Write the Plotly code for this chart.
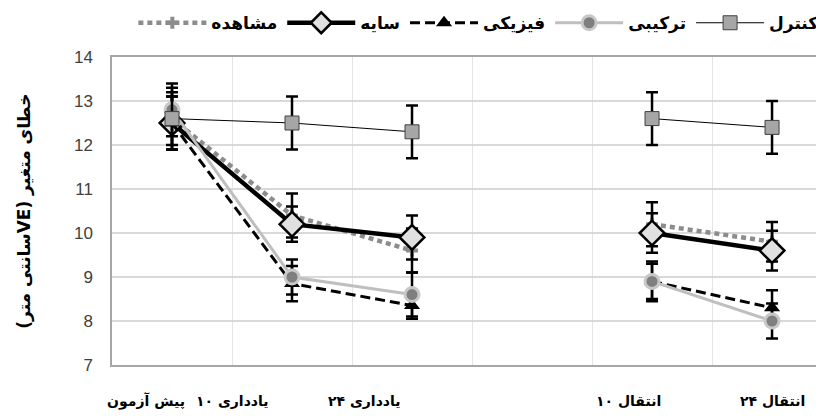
import plotly.graph_objects as go

categories = ["پیش آزمون", "یادداری ۱۰", "یادداری ۲۴", "", "انتقال ۱۰", "انتقال ۲۴"]
x_idx = [0, 1, 2, 3, 4, 5]

control = [12.6, 12.5, 12.3, None, 12.6, 12.4]
control_err = [0.6, 0.6, 0.6, None, 0.6, 0.6]
saye = [12.5, 10.2, 9.9, None, 10.0, 9.6]
saye_err = [0.6, 0.4, 0.5, None, 0.45, 0.45]
fiziki = [12.5, 8.85, 8.35, None, 8.9, 8.3]
fiziki_err = [0.6, 0.4, 0.3, None, 0.4, 0.4]
tarkibi = [12.8, 9.0, 8.6, None, 8.9, 8.0]
tarkibi_err = [0.6, 0.4, 0.5, None, 0.45, 0.4]
moshahede = [12.6, 10.4, 9.6, None, 10.2, 9.8]
moshahede_err = [0.7, 0.5, 0.5, None, 0.5, 0.45]

y_ticks = [7, 8, 9, 10, 11, 12, 13, 14]
y_title = "خطای متغیر (VEسانتی متر)"

FONT = "DejaVu Sans"

def eb(err):
    return dict(type="data", array=err, visible=True, color="black", thickness=2.5, width=6)

fig = go.Figure()
fig.add_trace(go.Scatter(
    x=x_idx, y=moshahede, name="مشاهده", mode="lines+markers",
    line=dict(color="#8c8c8c", width=4.5, dash="5px,4px"),
    marker=dict(symbol="cross", size=10, color="#8c8c8c"),
    error_y=eb(moshahede_err)))
fig.add_trace(go.Scatter(
    x=x_idx, y=saye, name="سایه", mode="lines+markers",
    line=dict(color="black", width=4.5),
    marker=dict(symbol="diamond", size=19, color="#e0e0e0", line=dict(color="black", width=2.5)),
    error_y=eb(saye_err)))
fig.add_trace(go.Scatter(
    x=x_idx, y=fiziki, name="فیزیکی", mode="lines+markers",
    line=dict(color="black", width=3, dash="10px,5px"),
    marker=dict(symbol="triangle-up", size=14, color="black"),
    error_y=eb(fiziki_err)))
fig.add_trace(go.Scatter(
    x=x_idx, y=tarkibi, name="ترکیبی", mode="lines+markers",
    line=dict(color="#bfbfbf", width=3),
    marker=dict(symbol="circle", size=14, color="#7f7f7f", line=dict(color="#c8c8c8", width=3)),
    error_y=eb(tarkibi_err)))
fig.add_trace(go.Scatter(
    x=x_idx, y=control, name="کنترل", mode="lines+markers",
    line=dict(color="black", width=1),
    marker=dict(symbol="square", size=14, color="#a6a6a6", line=dict(color="#404040", width=1)),
    error_y=eb(control_err)))

# category labels (placed as in the reference, slightly left of their points)
label_offsets = [-0.22, -0.5, -0.4, 0, -0.2, 0.0]
for i, (c, off) in enumerate(zip(categories, label_offsets)):
    if c:
        fig.add_annotation(x=i + off, y=0, xref="x", yref="paper", yanchor="middle",
                           yshift=-36, text=c, showarrow=False,
                           font=dict(family=FONT, size=14, color="black", weight="bold"))

fig.add_annotation(x=-0.124, y=0.5, xref="paper", yref="paper", xanchor="center", yanchor="middle",
                   text="\u202b" + y_title + "\u202c", textangle=-90, showarrow=False,
                   font=dict(family=FONT, size=17, color="black", weight="bold"))

fig.update_layout(
    width=816, height=411,
    margin=dict(l=104, r=0, t=49, b=54),
    paper_bgcolor="white", plot_bgcolor="white",
    showlegend=True,
    legend=dict(orientation="h", x=0.03, xanchor="left", yref="container", y=0.963,
                yanchor="middle",
                font=dict(family=FONT, size=17, color="black", weight="bold"),
                itemwidth=68, traceorder="normal"),
    xaxis=dict(range=[-0.5, 5.433], tickvals=[0.5, 1.5, 2.5, 3.5, 4.5], showticklabels=False,
               ticks="", showgrid=True, gridcolor="#e4e4e4", gridwidth=1, automargin=False,
               showline=True, linecolor="#a6a6a6", linewidth=1.5, mirror=True, zeroline=False),
    yaxis=dict(range=[7, 14], tickvals=y_ticks, ticks="", showgrid=True, gridcolor="#d9d9d9",
               gridwidth=2, showline=True, linecolor="#a6a6a6", linewidth=1.5, zeroline=False,
               automargin=False,
               tickfont=dict(family="Liberation Sans", size=17, color="#404040"),
               ticklabelstandoff=14),
)

fig.write_html("out.html")
